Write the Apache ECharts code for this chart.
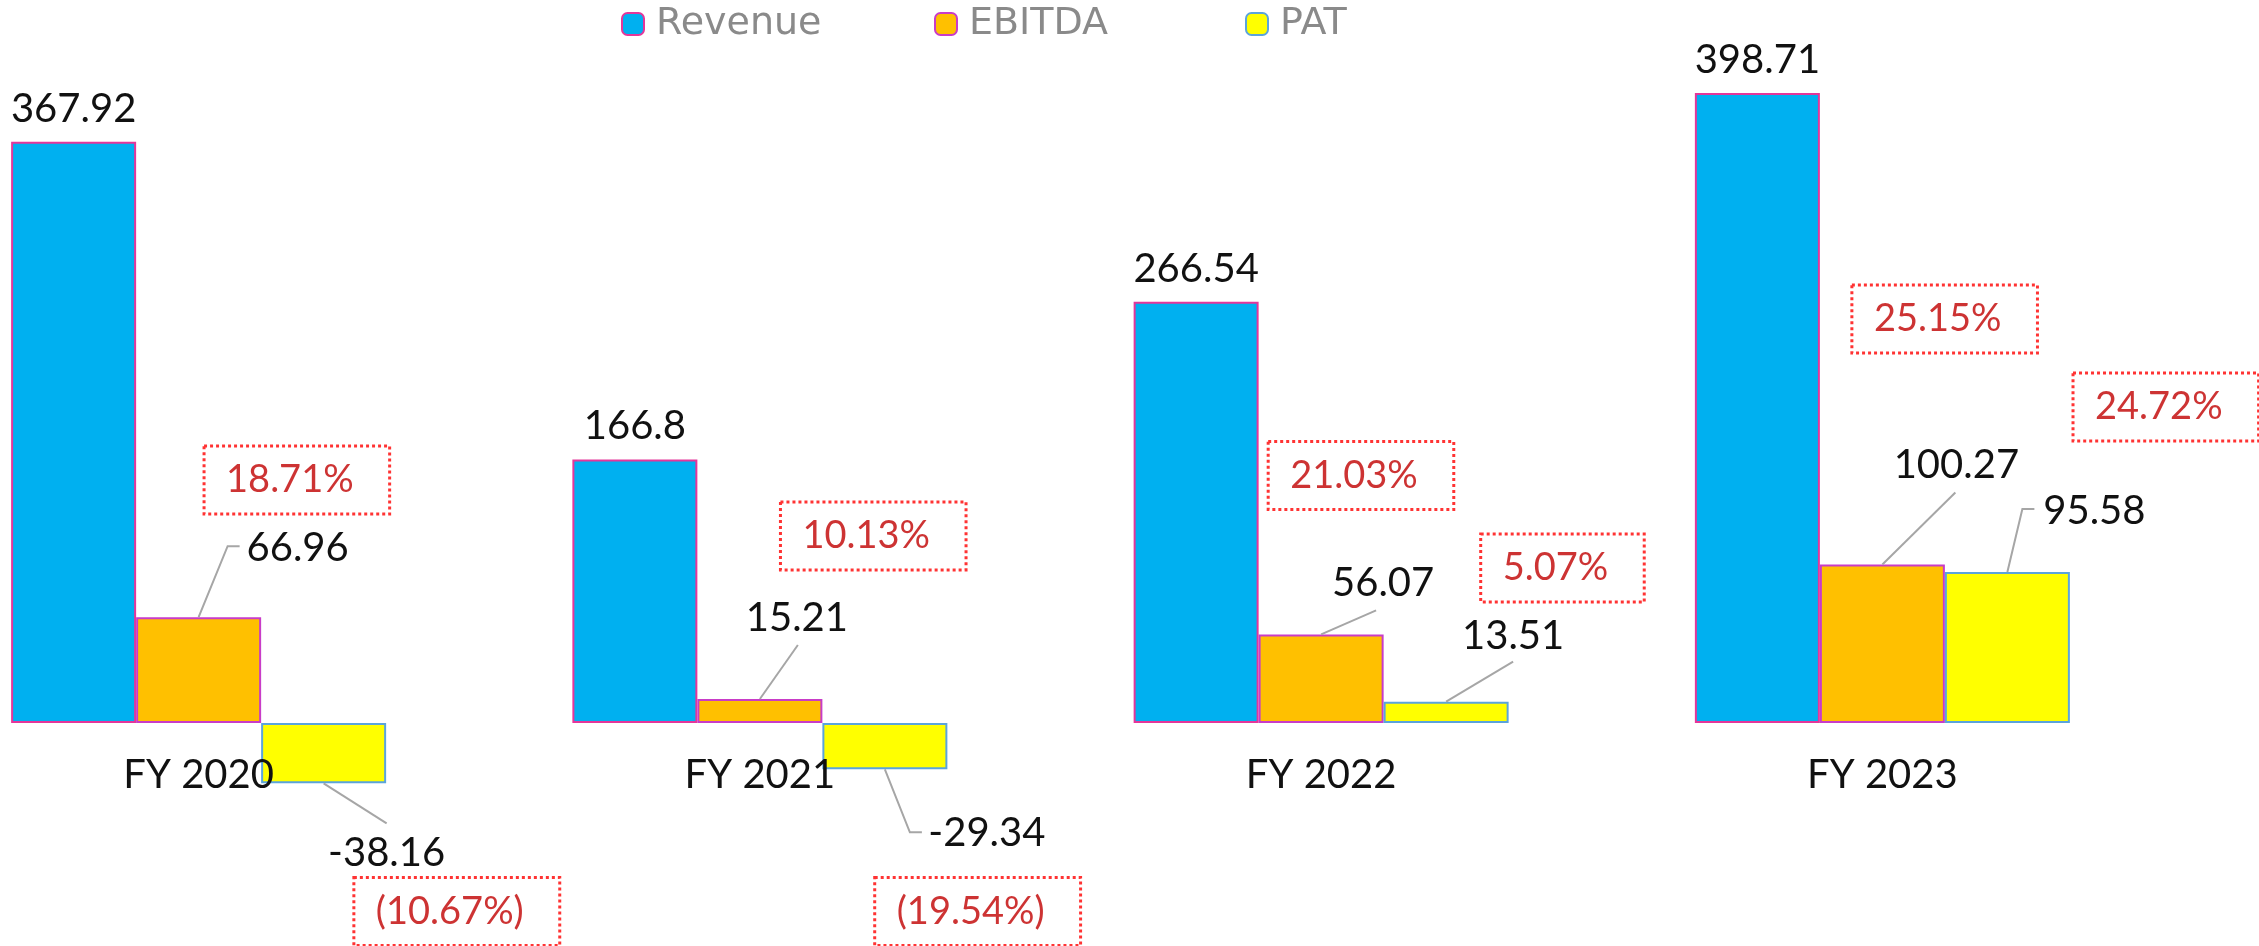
<!DOCTYPE html>
<html>
<head>
<meta charset="utf-8">
<script src="https://cdn.jsdelivr.net/npm/echarts@6/dist/echarts.min.js"></script>
<style>
html,body{margin:0;padding:0;background:#fff;overflow:hidden;}
#chart{width:2259px;height:946px;}
</style>
</head>
<body>
<div id="chart"></div>
<script>
var years = ['FY 2020', 'FY 2021', 'FY 2022', 'FY 2023'];
var revenue = [367.92, 166.8, 266.54, 398.71];
var ebitda = [66.96, 15.21, 56.07, 100.27];
var pat = [-38.16, -29.34, 13.51, 95.58];
var ebitdaMargin = [18.71, 10.13, 21.03, 25.15];
var patMargin = [-10.67, -19.54, 5.07, 24.72];

// label placement, px from the end of the bar: [labelDx, labelDy, lineEndDx, lineEndDy, elbow]
var ebitdaLabelPos = [[99, -69, 41, -71, true], [37, -81, 38, -54, false], [62, -51, 55, -24, false], [74, -99, 73, -72, false]];
var patLabelPos = [[63, 70, 63, 40, false], [102, 64, 37, 63, true], [67, -66, 67, -40, false], [87, -61, 27, -63, true]];
// margin boxes, in axis units [category position, value]
var ebitdaBoxPos = [[0.175, 153.8], [1.202, 118.4], [2.071, 156.6], [3.111, 255.7]];
var patBoxPos = [[0.46, -119.3], [1.388, -119.3], [2.43, 98.1], [3.505, 200]];

var FONT = 'Lato';
var barW = 125;

function pct(v) {
	return v < 0 ? '(' + Math.abs(v).toFixed(2) + '%)' : v.toFixed(2) + '%';
}

var myChart = echarts.init(document.getElementById('chart'));

function placeLabel(vals, pos) {
	return function (p) {
		var o = pos[p.dataIndex], r = p.rect;
		var ex = r.x + r.width / 2;
		var ey = vals[p.dataIndex] < 0 ? r.y + r.height : r.y;
		return {x: ex + o[0], y: ey + o[1], align: 'center', verticalAlign: 'middle'};
	};
}

function drawLeader(params, api) {
	var k = params.dataIndex, slot = k < 4 ? 0 : 1, i = k % 4;
	var o = (slot ? patLabelPos : ebitdaLabelPos)[i];
	var pt = api.coord([i, api.value(1)]);
	var ex = pt[0] + slot * barW, ey = pt[1];
	var pts = [[ex, ey]];
	if (o[4]) pts.push([ex + o[2] - 12, ey + o[3]]);
	pts.push([ex + o[2], ey + o[3]]);
	return {
		type: 'polyline',
		shape: {points: pts},
		style: {stroke: '#a6a6a6', lineWidth: 2, fill: null}
	};
}

var leaderData = [];
for (var i = 0; i < 4; i++) leaderData.push([i, ebitda[i]]);
for (var i = 0; i < 4; i++) leaderData.push([i, pat[i]]);

var boxData = [];
for (var i = 0; i < 4; i++) boxData.push({value: ebitdaBoxPos[i], name: pct(ebitdaMargin[i])});
for (var i = 0; i < 4; i++) boxData.push({value: patBoxPos[i], name: pct(patMargin[i])});

var valueLabel = {
	show: true,
	color: '#111',
	fontFamily: FONT,
	fontSize: 40
};

var legendText = {color: '#8a8a8a', fontFamily: 'DejaVu Sans', fontSize: 38, padding: [0, 0, 0, 7]};

var option = {
	animation: false,
	legend: [
		{data: ['Revenue'], left: 621, top: 5, padding: 0, itemWidth: 22, itemHeight: 22, textStyle: legendText},
		{data: ['EBITDA'], left: 934, top: 5, padding: 0, itemWidth: 22, itemHeight: 22, textStyle: legendText},
		{data: ['PAT'], left: 1245, top: 5, padding: 0, itemWidth: 22, itemHeight: 22, textStyle: legendText}
	],
	// grid bottom sits on the zero line; negative bars hang below it
	grid: {left: -82, right: 96, top: 59.4, bottom: 223, containLabel: false, outerBoundsMode: 'none'},
	xAxis: [{
		type: 'category',
		data: years,
		z: 3,
		axisLine: {show: false},
		axisTick: {show: false},
		axisLabel: {color: '#111', fontFamily: FONT, fontSize: 40, margin: 32}
	}, {
		type: 'value',
		min: -0.5,
		max: 3.5,
		show: false
	}],
	yAxis: {
		type: 'value',
		min: 0,
		max: 420,
		show: false
	},
	series: [{
		name: 'Revenue',
		type: 'bar',
		barWidth: barW,
		barGap: 0,
		clip: false,
		data: revenue,
		itemStyle: {color: '#00b0f0', borderColor: '#e4369a', borderWidth: 2},
		label: echarts.util.extend({position: 'top', distance: 13}, valueLabel)
	}, {
		name: 'EBITDA',
		type: 'bar',
		barWidth: barW,
		barGap: 0,
		clip: false,
		data: ebitda,
		itemStyle: {color: '#ffc000', borderColor: '#c83cc8', borderWidth: 2},
		label: echarts.util.extend({position: 'top'}, valueLabel),
		labelLayout: placeLabel(ebitda, ebitdaLabelPos)
	}, {
		name: 'PAT',
		type: 'bar',
		barWidth: barW,
		barGap: 0,
		clip: false,
		data: pat,
		itemStyle: {color: '#ffff00', borderColor: '#5ba4dc', borderWidth: 2},
		label: echarts.util.extend({position: 'top'}, valueLabel),
		labelLayout: placeLabel(pat, patLabelPos)
	}, {
		type: 'custom',
		renderItem: drawLeader,
		data: leaderData,
		encode: {x: 0, y: 1},
		clip: false,
		z: 3,
		silent: true
	}, {
		type: 'scatter',
		xAxisIndex: 1,
		data: boxData,
		symbolSize: 1,
		clip: false,
		silent: true,
		itemStyle: {color: 'rgba(0,0,0,0)'},
		label: {
			show: true,
			position: 'inside',
			formatter: function (p) { return p.name; },
			color: '#c00000',
			fontFamily: FONT,
			fontSize: 38,
			padding: [15, 36, 15, 22],
			borderColor: '#ff0000',
			borderWidth: 3,
			borderType: 'dotted'
		}
	}]
};

myChart.setOption(option);
</script>
</body>
</html>
